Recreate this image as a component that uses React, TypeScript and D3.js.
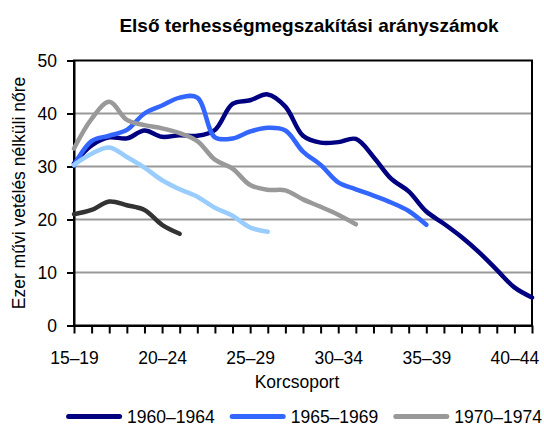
import React, { useRef, useEffect } from "react";
import * as d3 from "d3";

// single-year ages on the category axis, labels every five years
const ages = [15, 16, 17, 18, 19, 20, 21, 22, 23, 24, 25, 26, 27, 28, 29, 30, 31, 32, 33, 34, 35, 36, 37, 38, 39, 40, 41];
const tickAges = [15, 20, 25, 30, 35, 40];
const tickLabels = ["15–19", "20–24", "25–29", "30–34", "35–39", "40–44"];
const yTicks = [0, 10, 20, 30, 40, 50];

const s1960 = [30.6, 34.0, 35.5, 35.3, 36.8, 35.6, 35.9, 35.8, 36.9, 41.8, 42.5, 43.6, 41.3, 35.8, 34.5, 34.6, 35.2, 31.8, 27.7, 25.3, 21.5, 19.2, 16.7, 13.8, 10.5, 7.2, 5.3];
const s1965 = [30.2, 34.8, 35.8, 36.9, 40.0, 41.5, 43.0, 43.0, 35.5, 35.3, 36.6, 37.3, 36.8, 32.8, 30.3, 27.0, 25.7, 24.5, 23.2, 21.6, 19.0];
const s1970 = [33.4, 39.0, 42.2, 38.8, 37.8, 37.2, 36.3, 34.8, 31.3, 29.6, 26.5, 25.6, 25.5, 23.8, 22.4, 20.9, 19.1];
const s1975 = [30.3, 32.4, 33.6, 31.8, 29.8, 27.4, 25.7, 24.3, 22.2, 20.7, 18.5, 17.7];
const s1980 = [21.0, 21.8, 23.4, 22.7, 21.8, 19.0, 17.3];

const seriesNames = ["1960–1964", "1965–1969", "1970–1974", "1975–1979", "1980–1984"];
const seriesValues = [s1960, s1965, s1970, s1975, s1980];
const seriesColors = ["#000080", "#3366ff", "#999999", "#99ccff", "#333333"];
// only the first legend row is inside the picture
const legendNames = seriesNames.slice(0, 3);

const W = 544;
const H = 427;
const FONT = "'Liberation Sans', Arial, sans-serif";

const Chart = () => {
  const svgRef = useRef<SVGSVGElement>(null);

  useEffect(() => {
    const svg = d3.select(svgRef.current);
    svg.selectAll("*").remove();

    const margin = { top: 60.5, right: 12, bottom: 101.5, left: 74 };

    const x = d3
      .scalePoint<number>()
      .domain(ages)
      .range([margin.left, W - margin.right]);

    const y = d3
      .scaleLinear()
      .domain([0, 50])
      .range([H - margin.bottom, margin.top]);

    // gridlines
    svg
      .append("g")
      .selectAll("line")
      .data(yTicks.filter((d) => d > 0 && d < 50))
      .join("line")
      .attr("x1", margin.left)
      .attr("x2", W - margin.right)
      .attr("y1", (d) => y(d))
      .attr("y2", (d) => y(d))
      .attr("stroke", "#999999")
      .attr("stroke-width", 2);

    // plot frame
    svg
      .append("rect")
      .attr("x", margin.left)
      .attr("y", margin.top)
      .attr("width", W - margin.right - margin.left)
      .attr("height", H - margin.bottom - margin.top)
      .attr("fill", "none")
      .attr("stroke", "#000")
      .attr("stroke-width", 2);

    const labelOf = (d: number) => {
      const i = tickAges.indexOf(d);
      return i >= 0 ? tickLabels[i] : "";
    };

    const xAxis = svg
      .append("g")
      .attr("transform", `translate(0,${y(0)})`)
      .call(d3.axisBottom(x).tickValues(ages).tickSize(8).tickSizeOuter(0).tickPadding(18).tickFormat(labelOf as any));

    const yAxis = svg
      .append("g")
      .attr("transform", `translate(${margin.left},0)`)
      .call(d3.axisLeft(y).tickValues(yTicks).tickSize(7).tickSizeOuter(0).tickPadding(10));

    [xAxis, yAxis].forEach((g) => {
      g.select(".domain").attr("stroke", "#000").attr("stroke-width", 2);
      g.selectAll(".tick line").attr("stroke", "#000").attr("stroke-width", 2);
      g.selectAll(".tick text")
        .attr("fill", "#000")
        .style("font-family", FONT)
        .style("font-size", "17.5px");
    });

    // series
    const line = d3
      .line<number>()
      .x((d, i) => x(ages[i]) as number)
      .y((d) => y(d))
      .curve(d3.curveCatmullRom.alpha(0.5));

    svg
      .append("g")
      .selectAll("path")
      .data(seriesValues)
      .join("path")
      .attr("d", (d) => line(d))
      .attr("fill", "none")
      .attr("stroke", (d, i) => seriesColors[i])
      .attr("stroke-width", 4.5)
      .attr("stroke-linecap", "round")
      .attr("stroke-linejoin", "round");

    // title
    svg
      .append("text")
      .attr("x", 309)
      .attr("y", 31.5)
      .attr("text-anchor", "middle")
      .style("font-family", FONT)
      .style("font-size", "19px")
      .style("font-weight", "bold")
      .text("Első terhességmegszakítási arányszámok");

    // X-axis label
    svg
      .append("text")
      .attr("x", 297)
      .attr("y", 388)
      .attr("text-anchor", "middle")
      .style("font-family", FONT)
      .style("font-size", "17.5px")
      .text("Korcsoport");

    // Y-axis label
    svg
      .append("text")
      .attr("transform", `translate(25,${(y(0) + y(50)) / 2}) rotate(-90)`)
      .attr("text-anchor", "middle")
      .style("font-family", FONT)
      .style("font-size", "17.5px")
      .text("Ezer művi vetélés nélküli nőre");

    // Legend
    const lineLen = 56;
    const gap = 5;
    const after = 15;
    const row = svg.append("g").attr("transform", "translate(0,416.5)");
    const items = row.selectAll("g").data(legendNames).join("g");
    items
      .append("text")
      .attr("y", 6.2)
      .style("font-family", FONT)
      .style("font-size", "17.5px")
      .text((d) => d);
    const widths: number[] = [];
    items.selectAll<SVGTextElement, string>("text").each(function () {
      widths.push(this.getComputedTextLength());
    });
    const total = d3.sum(widths) + legendNames.length * (lineLen + gap) + (legendNames.length - 1) * after;
    let cx = 304 - total / 2;
    items.each(function (d, i) {
      const g = d3.select(this);
      const color = seriesColors[seriesNames.indexOf(d)];
      g.insert("line", "text")
        .attr("x1", cx + 2.5)
        .attr("x2", cx + lineLen - 2.5)
        .attr("stroke", color)
        .attr("stroke-width", 5)
        .attr("stroke-linecap", "round");
      g.select("text").attr("x", cx + lineLen + gap);
      cx += lineLen + gap + widths[i] + after;
    });
  }, []);

  return (
    <svg
      ref={svgRef}
      width={W}
      height={H}
      style={{ position: "absolute", left: 0, top: 0, background: "#fff" }}
    ></svg>
  );
};

export default function App() {
  return <Chart />;
}
